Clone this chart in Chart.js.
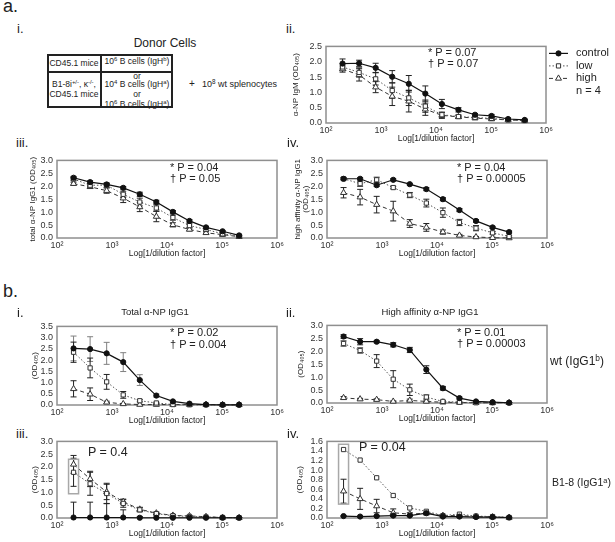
<!DOCTYPE html>
<html>
<head>
<meta charset="utf-8">
<script src="https://cdn.jsdelivr.net/npm/chart.js@4.4.1/dist/chart.umd.min.js"></script>
<style>
  body { margin: 0; background: #fff; }
  #page { position: relative; width: 615px; height: 542px; overflow: hidden;
          font-family: "Liberation Sans", Arial, sans-serif; color: #222; }
  canvas { position: absolute; }
  .t { position: absolute; white-space: nowrap; line-height: 1; z-index: 2; color: #222; }
  .c { transform: translateX(-50%); }
  sup { font-size: 70%; vertical-align: 0.45em; line-height: 0; }
  .line { position: absolute; background: #222; }
</style>
</head>
<body>
<div id="page">
  <div class="t" style="left:3px;top:-3px;font-size:18px">a.</div>
  <div class="t" style="left:17px;top:22px;font-size:13px">i.</div>
  <div class="t" style="left:286px;top:22px;font-size:13px">ii.</div>
  <div class="t" style="left:16px;top:136px;font-size:13px">iii.</div>
  <div class="t" style="left:287px;top:136px;font-size:13px">iv.</div>
  <div class="t" style="left:3px;top:282px;font-size:18px">b.</div>
  <div class="t" style="left:17px;top:306px;font-size:13px">i.</div>
  <div class="t" style="left:286px;top:306px;font-size:13px">ii.</div>
  <div class="t" style="left:16px;top:427px;font-size:13px">iii.</div>
  <div class="t" style="left:287px;top:427px;font-size:13px">iv.</div>

  <!-- donor cells table -->
  <div class="t c" style="left:165px;top:37px;font-size:12px">Donor Cells</div>
  <div style="position:absolute;left:47px;top:54px;width:126px;height:54px;border:2px solid #222;box-sizing:border-box"></div>
  <div class="line" style="left:100px;top:54px;width:2px;height:54px"></div>
  <div class="line" style="left:47px;top:71px;width:126px;height:2px"></div>
  <div class="t c" style="left:74px;top:59px;font-size:8.5px">CD45.1 mice</div>
  <div class="t c" style="left:137px;top:57px;font-size:8.5px">10<sup>6</sup> B cells (IgH<sup>b</sup>)</div>
  <div class="t c" style="left:137px;top:72px;font-size:8.5px">or</div>
  <div class="t c" style="left:74px;top:80px;font-size:8.5px">B1-8i<sup>+/-</sup>, κ<sup>-/-</sup>,</div>
  <div class="t c" style="left:74px;top:90px;font-size:8.5px">CD45.1 mice</div>
  <div class="t c" style="left:137px;top:80px;font-size:8.5px">10<sup>4</sup> B cells (IgH<sup>a</sup>)</div>
  <div class="t c" style="left:137px;top:90px;font-size:8.5px">or</div>
  <div class="t c" style="left:137px;top:100px;font-size:8.5px">10<sup>6</sup> B cells (IgH<sup>a</sup>)</div>
  <div class="t" style="left:189px;top:79px;font-size:10px">+</div>
  <div class="t" style="left:202px;top:80px;font-size:9px">10<sup>8</sup> wt splenocytes</div>

  <!-- p values -->
  <div class="t" style="left:428px;top:47px;font-size:11px">* P = 0.07</div>
  <div class="t" style="left:428px;top:58px;font-size:11px">† P = 0.07</div>
  <div class="t" style="left:170px;top:162px;font-size:11px">* P = 0.04</div>
  <div class="t" style="left:170px;top:173px;font-size:11px">† P = 0.05</div>
  <div class="t" style="left:457px;top:162px;font-size:11px">* P = 0.04</div>
  <div class="t" style="left:457px;top:173px;font-size:11px">† P = 0.00005</div>
  <div class="t" style="left:170px;top:327px;font-size:11px">* P = 0.02</div>
  <div class="t" style="left:170px;top:339px;font-size:11px">† P = 0.004</div>
  <div class="t" style="left:457px;top:327px;font-size:11px">* P = 0.01</div>
  <div class="t" style="left:457px;top:338px;font-size:11px">† P = 0.00003</div>
  <div class="t" style="left:88px;top:446px;font-size:12.5px">P = 0.4</div>
  <div class="t" style="left:359px;top:441px;font-size:12.5px">P = 0.04</div>

  <div class="t c" style="left:155px;top:307px;font-size:9.5px">Total α-NP IgG1</div>
  <div class="t c" style="left:430px;top:307px;font-size:9.5px">High affinity α-NP IgG1</div>
  <div class="t" style="left:550px;top:355px;font-size:12px">wt (IgG1<sup>b</sup>)</div>
  <div class="t" style="left:552px;top:477px;font-size:10.5px">B1-8 (IgG1<sup>a</sup>)</div>
</div>

<script>
// dilution series (x values)
const dilutionsIgM = [200, 400, 800, 1600, 3200, 6400, 12800, 25600, 51200, 102400, 204800, 409600];
const dilutions = [200, 400, 800, 1600, 3200, 6400, 12800, 25600, 51200, 102400, 204800];
const xTicks = [1e2, 1e3, 1e4, 1e5, 1e6];
const xTickLabels = ['10²', '10³', '10⁴', '10⁵', '10⁶'];
const seriesNames = ['control', 'low', 'high'];

// a.ii  IgM
const ctrlIgM = [1.94, 1.95, 1.80, 1.51, 1.28, 0.96, 0.62, 0.43, 0.27, 0.23, 0.13, 0.10];
const ctrlIgMErr = [0.15, 0.10, 0.15, 0.20, 0.27, 0.25, 0.15, 0.07, 0.04, 0.05, 0.03, 0.02];
const lowIgM = [1.83, 1.65, 1.44, 1.06, 0.82, 0.55, 0.27, 0.21, 0.18, 0.15, 0.10, 0.08];
const lowIgMErr = [0.10, 0.15, 0.20, 0.25, 0.25, 0.20, 0.08, 0.05, 0.03, 0.03, 0.02, 0.02];
const highIgM = [1.76, 1.57, 1.17, 0.87, 0.71, 0.45, 0.25, 0.20, 0.16, 0.13, 0.10, 0.08];
const highIgMErr = [0.10, 0.20, 0.18, 0.30, 0.35, 0.20, 0.10, 0.05, 0.03, 0.03, 0.02, 0.02];

// a.iii total IgG1
const ctrlTot = [2.33, 2.16, 2.07, 1.94, 1.69, 1.39, 1.01, 0.66, 0.41, 0.26, 0.10];
const ctrlTotErr = [0.05, 0.05, 0.05, 0.05, 0.08, 0.07, 0.05, 0.05, 0.04, 0.03, 0.02];
const lowTot = [2.28, 2.04, 2.04, 1.69, 1.39, 1.16, 0.79, 0.48, 0.33, 0.16, 0.08];
const lowTotErr = [0.05, 0.07, 0.08, 0.12, 0.15, 0.12, 0.10, 0.07, 0.05, 0.05, 0.03];
const highTot = [2.10, 1.98, 1.83, 1.54, 1.20, 0.83, 0.51, 0.33, 0.20, 0.13, 0.05];
const highTotErr = [0.06, 0.06, 0.10, 0.17, 0.18, 0.20, 0.08, 0.05, 0.04, 0.03, 0.02];

// a.iv high affinity IgG1
const ctrlHi = [2.29, 2.29, 2.04, 2.25, 2.08, 1.89, 1.50, 1.08, 0.66, 0.41, 0.23];
const ctrlHiErr = [0.05, 0.04, 0.05, 0.04, 0.03, 0.06, 0.06, 0.06, 0.05, 0.04, 0.04];
const lowHi = [2.29, 2.10, 2.25, 1.95, 1.66, 1.35, 0.98, 0.60, 0.38, 0.20, 0.06];
const lowHiErr = [0.03, 0.10, 0.10, 0.05, 0.10, 0.15, 0.18, 0.12, 0.10, 0.05, 0.03];
const highHi = [1.75, 1.58, 1.29, 1.04, 0.56, 0.41, 0.23, 0.10, 0.04, 0.01, 0.00];
const highHiErr = [0.20, 0.30, 0.32, 0.38, 0.15, 0.15, 0.08, 0.04, 0.02, 0.02, 0.02];

// b.i wt total IgG1
const ctrlWtTot = [2.52, 2.49, 2.30, 1.91, 1.11, 0.42, 0.16, 0.06, 0.02, 0.01, 0.01];
const ctrlWtTotErr = [0.55, 0.55, 0.49, 0.42, 0.24, 0.07, 0.03, 0.02, 0.01, 0.01, 0.01];
const lowWtTot = [2.35, 1.65, 1.03, 0.45, 0.19, 0.09, 0.02, 0.01, 0.01, 0.01, 0.01];
const lowWtTotErr = [0.45, 0.44, 0.33, 0.15, 0.05, 0.03, 0.01, 0.01, 0.01, 0.01, 0.01];
const highWtTot = [0.72, 0.48, 0.12, 0.05, 0.02, 0.02, 0.02, 0.02, 0.02, 0.01, 0.01];
const highWtTotErr = [0.36, 0.28, 0.05, 0.02, 0.01, 0.01, 0.01, 0.01, 0.01, 0.01, 0.01];

// b.ii wt high affinity IgG1
const ctrlWtHi = [2.57, 2.37, 2.37, 2.25, 2.05, 1.29, 0.57, 0.19, 0.06, 0.03, 0.01];
const ctrlWtHiErr = [0.07, 0.12, 0.04, 0.08, 0.10, 0.15, 0.07, 0.04, 0.02, 0.01, 0.01];
const lowWtHi = [2.30, 2.03, 1.62, 0.92, 0.51, 0.23, 0.06, 0.03, 0.01, 0.01, 0.01];
const lowWtHiErr = [0.10, 0.10, 0.25, 0.33, 0.22, 0.08, 0.03, 0.01, 0.01, 0.01, 0.01];
const highWtHi = [0.20, 0.15, 0.13, 0.06, 0.10, 0.06, 0.03, 0.02, 0.01, 0.01, 0.01];
const highWtHiErr = [0.05, 0.03, 0.03, 0.02, 0.05, 0.02, 0.01, 0.01, 0.01, 0.01, 0.01];

// b.iii B1-8 total IgG1
const ctrlB18Tot = [0.02, 0.02, 0.02, 0.02, 0.01, 0.01, 0.01, 0.01, 0.01, 0.01, 0.01];
const ctrlB18TotErr = [0.60, 0.60, 0.55, 0.30, 0.05, 0.02, 0.01, 0.01, 0.01, 0.01, 0.01];
const lowB18Tot = [1.79, 1.34, 0.96, 0.57, 0.32, 0.17, 0.09, 0.06, 0.04, 0.02, 0.01];
const lowB18TotErr = [0.55, 0.45, 0.40, 0.15, 0.08, 0.05, 0.03, 0.02, 0.01, 0.01, 0.01];
const highB18Tot = [2.10, 1.53, 1.02, 0.64, 0.34, 0.19, 0.10, 0.08, 0.05, 0.02, 0.01];
const highB18TotErr = [0.35, 0.30, 0.30, 0.10, 0.08, 0.04, 0.03, 0.02, 0.01, 0.01, 0.01];

// b.iv B1-8 high affinity IgG1
const ctrlB18Hi = [0.04, 0.03, 0.04, 0.05, 0.05, 0.10, 0.03, 0.03, 0.02, 0.02, 0.01];
const ctrlB18HiErr = [0.01, 0.01, 0.01, 0.01, 0.01, 0.01, 0.01, 0.01, 0.01, 0.01, 0.01];
const lowB18Hi = [1.43, 1.21, 0.84, 0.47, 0.21, 0.14, 0.05, 0.08, 0.04, 0.03, 0.01];
const lowB18HiErr = [0, 0, 0, 0, 0, 0, 0, 0, 0, 0, 0];
const highB18Hi = [0.56, 0.40, 0.25, 0.11, 0.08, 0.10, 0.05, 0.05, 0.03, 0.02, 0.01];
const highB18HiErr = [0.25, 0.22, 0.14, 0.08, 0.03, 0.02, 0.01, 0.01, 0.01, 0.01, 0.01];

Chart.defaults.font.family = '"Liberation Sans", Arial, sans-serif';
Chart.defaults.color = '#333';

const styles = {
  control: { borderColor: '#111', borderWidth: 1.2, pointStyle: 'circle', pointRadius: 2.6,
             pointBackgroundColor: '#111', pointBorderColor: '#111', pointBorderWidth: 1, errColor: '#222' },
  low:     { borderColor: '#555', borderWidth: 1, borderDash: [1.5, 2], pointStyle: 'rect', pointRadius: 3,
             pointBackgroundColor: '#fff', pointBorderColor: '#333', pointBorderWidth: 1, errColor: '#222' },
  high:    { borderColor: '#333', borderWidth: 1, borderDash: [4, 3], pointStyle: 'triangle', pointRadius: 3.5,
             pointBackgroundColor: '#fff', pointBorderColor: '#333', pointBorderWidth: 1, errColor: '#222' }
};

// frame, error bars, highlight box, legend
const panelDeco = {
  id: 'panelDeco',
  beforeDatasetsDraw(chart) {
    const { ctx, chartArea: a, scales: { x, y } } = chart;
    ctx.save();
    ctx.strokeStyle = '#8f8f8f';
    ctx.lineWidth = 1.5;
    ctx.strokeRect(a.left, a.top, a.right - a.left, a.bottom - a.top);
    ctx.beginPath();
    ctx.rect(a.left, a.top, a.right - a.left, a.bottom - a.top);
    ctx.clip();
    chart.data.datasets.forEach(d => {
      ctx.strokeStyle = d.errColor;
      ctx.lineWidth = 1;
      d.data.forEach((pt, i) => {
        const e = d.err[i];
        if (!e) return;
        const px = x.getPixelForValue(pt.x);
        const y1 = y.getPixelForValue(pt.y + e), y2 = y.getPixelForValue(pt.y - e);
        ctx.beginPath();
        ctx.moveTo(px, y1); ctx.lineTo(px, y2);
        ctx.moveTo(px - 3, y1); ctx.lineTo(px + 3, y1);
        ctx.moveTo(px - 3, y2); ctx.lineTo(px + 3, y2);
        ctx.stroke();
      });
    });
    ctx.restore();
  },
  afterDatasetsDraw(chart, args, opts) {
    const { ctx, chartArea: a, scales: { x, y } } = chart;
    ctx.save();
    if (opts.box) {
      const px = x.getPixelForValue(opts.box.x);
      const top = y.getPixelForValue(opts.box.hi), bot = y.getPixelForValue(opts.box.lo);
      ctx.strokeStyle = '#a8a8a8';
      ctx.lineWidth = 1.5;
      ctx.strokeRect(px - 5, top, 10, bot - top);
    }
    if (opts.legend) {
      const x0 = a.right + 3;
      ctx.font = '11px "Liberation Sans", Arial, sans-serif';
      ctx.textBaseline = 'middle';
      chart.data.datasets.forEach((d, i) => {
        const yy = a.top + 7 + i * 12.5;
        ctx.strokeStyle = d.borderColor;
        ctx.lineWidth = d.borderWidth;
        ctx.setLineDash(d.borderDash || []);
        ctx.beginPath(); ctx.moveTo(x0, yy); ctx.lineTo(x0 + 19, yy); ctx.stroke();
        ctx.setLineDash([]);
        ctx.fillStyle = d.pointBackgroundColor;
        ctx.strokeStyle = d.pointBorderColor;
        ctx.lineWidth = 1;
        Chart.helpers.drawPoint(ctx, { pointStyle: d.pointStyle, radius: d.pointRadius, borderWidth: 1, rotation: 0 }, x0 + 9.5, yy);
        ctx.fillStyle = '#222';
        ctx.fillText(d.label, x0 + 27, yy);
      });
      ctx.fillText(opts.legendNote, x0 + 27, a.top + 7 + 3 * 12.5);
    }
    ctx.restore();
  }
};
Chart.register(panelDeco);

const odTitle = '(OD₄₀₅)';
const panels = [
  { frame: [326, 45, 546, 123], xs: dilutionsIgM, yMax: 2.5, yStep: 0.5, yTitle: 'α-NP IgM (OD₄₀₅)', yTitleX: 296,
    padRight: 69, legend: true,
    series: [[ctrlIgM, ctrlIgMErr], [lowIgM, lowIgMErr], [highIgM, highIgMErr]] },
  { frame: [57, 159, 277, 238], xs: dilutions, yMax: 3, yStep: 0.5, yTitle: 'total α-NP IgG1 (OD₄₀₅)', yTitleX: 33,
    series: [[ctrlTot, ctrlTotErr], [lowTot, lowTotErr], [highTot, highTotErr]] },
  { frame: [327, 159, 547, 238], xs: dilutions, yMax: 3, yStep: 0.5, yTitle: ['high affinity α-NP IgG1', odTitle], yTitleX: 297.5,
    series: [[ctrlHi, ctrlHiErr], [lowHi, lowHiErr], [highHi, highHiErr]] },
  { frame: [57, 325, 277, 405], xs: dilutions, yMax: 3.5, yStep: 0.5, yTitle: odTitle, yTitleX: 35, ctrlErrColor: '#808080',
    series: [[ctrlWtTot, ctrlWtTotErr], [lowWtTot, lowWtTotErr], [highWtTot, highWtTotErr]] },
  { frame: [327, 324, 547, 403], xs: dilutions, yMax: 3, yStep: 0.5, yTitle: odTitle, yTitleX: 301,
    series: [[ctrlWtHi, ctrlWtHiErr], [lowWtHi, lowWtHiErr], [highWtHi, highWtHiErr]] },
  { frame: [57, 440, 277, 518], xs: dilutions, yMax: 3, yStep: 0.5, yTitle: odTitle, yTitleX: 35,
    box: { x: 200, lo: 0.95, hi: 2.3 },
    series: [[ctrlB18Tot, ctrlB18TotErr], [lowB18Tot, lowB18TotErr], [highB18Tot, highB18TotErr]] },
  { frame: [327, 440, 547, 518], xs: dilutions, yMax: 1.6, yStep: 0.2, yTitle: odTitle, yTitleX: 300,
    box: { x: 200, lo: 0.29, hi: 1.54 },
    series: [[ctrlB18Hi, ctrlB18HiErr], [lowB18Hi, lowB18HiErr], [highB18Hi, highB18HiErr]] }
];

const page = document.getElementById('page');
panels.forEach(p => {
  const [L, T, R, B] = p.frame;
  const padTop = 8, xh = 21, padRight = p.padRight || 12;
  const titleSize = 8, titleLH = 0.95;
  const canvasLeft = Math.round(p.yTitleX - titleSize * titleLH / 2);
  const yw = L - canvasLeft;
  const cv = document.createElement('canvas');
  cv.width = yw + (R - L) + padRight;
  cv.height = padTop + (B - T) + xh;
  cv.style.left = canvasLeft + 'px';
  cv.style.top = (T - padTop) + 'px';
  page.appendChild(cv);

  const datasets = p.series.map(([vals, errs], k) => {
    const name = seriesNames[k];
    const d = Object.assign({ label: name, clip: false, tension: 0 }, styles[name]);
    d.data = vals.map((v, i) => ({ x: p.xs[i], y: v }));
    d.err = errs;
    if (k === 0 && p.ctrlErrColor) d.errColor = p.ctrlErrColor;
    return d;
  });

  new Chart(cv, {
    type: 'line',
    data: { datasets },
    options: {
      responsive: false,
      animation: false,
      devicePixelRatio: 1,
      layout: { padding: { top: padTop, right: padRight, left: 0, bottom: 0 } },
      plugins: {
        legend: { display: false },
        tooltip: { enabled: false },
        panelDeco: { legend: !!p.legend, legendNote: 'n = 4', box: p.box || null }
      },
      scales: {
        x: {
          type: 'logarithmic', min: 100, max: 1e6,
          afterBuildTicks: s => { s.ticks = xTicks.map(v => ({ value: v })); },
          afterFit: s => { s.height = xh; },
          ticks: { callback: (v, i) => xTickLabels[i], font: { size: 9 }, padding: 2, maxRotation: 0, autoSkip: false },
          grid: { display: false, drawTicks: false },
          border: { display: false },
          title: { display: true, text: 'Log[1/dilution factor]', font: { size: 8.5 }, padding: 0, color: '#222' }
        },
        y: {
          min: 0, max: p.yMax,
          afterFit: s => { s.width = yw; },
          ticks: { stepSize: p.yStep, autoSkip: false, callback: v => v.toFixed(1), font: { size: 9 }, padding: 4 },
          grid: { display: false, drawTicks: false },
          border: { display: false },
          title: { display: true, text: p.yTitle, font: { size: titleSize, lineHeight: titleLH }, padding: 0, color: '#222' }
        }
      }
    }
  });
});
</script>
</body>
</html>
